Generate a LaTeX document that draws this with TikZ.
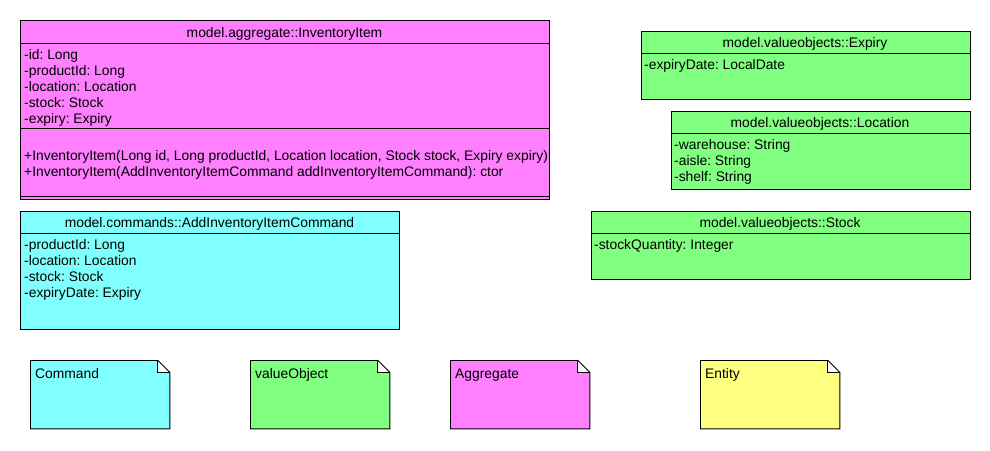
\documentclass[tikz,border=0pt]{standalone}
\usepackage{fontspec}
\setmainfont{Liberation Sans}
\usetikzlibrary{calc}
\definecolor{aggcol}{HTML}{FF80FF}
\definecolor{cmdcol}{HTML}{80FFFF}
\definecolor{vocol}{HTML}{80FF80}
\definecolor{entcol}{HTML}{FFFF80}
\frenchspacing
\tikzset{
  classbox/.style={draw=black, line width=0.9pt, rectangle, inner sep=0pt, anchor=north west},
  sepline/.style={draw=black, line width=0.9pt},
  txt/.style={inner sep=0pt, anchor=base west, font=\fontsize{13.85}{16}\selectfont},
  title/.style={inner sep=0pt, anchor=base, font=\fontsize{13.85}{16}\selectfont},
  noteframe/.style={rectangle, inner sep=0pt, anchor=north west, minimum width=139pt, minimum height=68pt},
  noteline/.style={draw=black, line width=0.9pt, line join=miter},
}
\newcommand{\notedraw}[2]{%
  \fill[#2] (#1.north west) -- ($(#1.north east)+(-12,0)$) -- ($(#1.north east)+(-12,12)$) -- ($(#1.north east)+(0,12)$) -- (#1.south east) -- (#1.south west) -- cycle;
  \path[noteline] (#1.north west) -- ($(#1.north east)+(-12,0)$) -- ($(#1.north east)+(0,12)$) -- (#1.south east) -- (#1.south west) -- cycle;
  \path[noteline] ($(#1.north east)+(-12,0)$) -- ($(#1.north east)+(-12,12)$) -- ($(#1.north east)+(0,12)$);
}
\begin{document}
\begin{tikzpicture}[x=1pt, y=-1pt]
\useasboundingbox[fill=white] (0,0) rectangle (990,450);

% ---------- InventoryItem ----------
\node[classbox, fill=aggcol, minimum width=529pt, minimum height=179pt] (inv) at (20,20) {};
\draw[sepline] (20,43) -- (549,43);
\draw[sepline] (20,128) -- (549,128);
\draw[sepline] (20,196.5) -- (549,196.5);
\node[title] (invt) at (284.5,37) {model.aggregate::InventoryItem};
\node[txt] (inva1) at (24,59) {-id: Long};
\node[txt] (inva2) at (24,75) {-productId: Long};
\node[txt] (inva3) at (24,91) {-location: Location};
\node[txt] (inva4) at (24,107) {-stock: Stock};
\node[txt] (inva5) at (24,123) {-expiry: Expiry};
\begin{scope}
\clip (20.5,129) rectangle (548.5,195);
\node[txt] (invm1) at (24,160) {+InventoryItem(Long id, Long productId, Location location, Stock stock, Expiry expiry): ctor};
\end{scope}
\node[txt] (invm2) at (24,176) {+InventoryItem(AddInventoryItemCommand addInventoryItemCommand): ctor};

% ---------- AddInventoryItemCommand ----------
\node[classbox, fill=cmdcol, minimum width=379pt, minimum height=118pt] (cmd) at (20,210.5) {};
\draw[sepline] (20,233) -- (399,233);
\node[title] (cmdt) at (209.5,227) {model.commands::AddInventoryItemCommand};
\node[txt] (cmda1) at (24,249) {-productId: Long};
\node[txt] (cmda2) at (24,265) {-location: Location};
\node[txt] (cmda3) at (24,281) {-stock: Stock};
\node[txt] (cmda4) at (24,297) {-expiryDate: Expiry};

% ---------- Expiry ----------
\node[classbox, fill=vocol, minimum width=329pt, minimum height=68.5pt] (exp) at (640.5,30.5) {};
\draw[sepline] (640.5,53) -- (969.5,53);
\node[title] (expt) at (805,47) {model.valueobjects::Expiry};
\node[txt] (expa1) at (644,69) {-expiryDate: LocalDate};

% ---------- Location ----------
\node[classbox, fill=vocol, minimum width=299pt, minimum height=78.5pt] (loc) at (670.5,110.5) {};
\draw[sepline] (670.5,133) -- (969.5,133);
\node[title] (loct) at (820,127) {model.valueobjects::Location};
\node[txt] (loca1) at (674,149) {-warehouse: String};
\node[txt] (loca2) at (674,165) {-aisle: String};
\node[txt] (loca3) at (674,181) {-shelf: String};

% ---------- Stock ----------
\node[classbox, fill=vocol, minimum width=379pt, minimum height=68.5pt] (stk) at (590.5,210.5) {};
\draw[sepline] (590.5,233) -- (969.5,233);
\node[title] (stkt) at (780,227) {model.valueobjects::Stock};
\node[txt] (stka1) at (594,249) {-stockQuantity: Integer};

% ---------- Legend notes ----------
\node[noteframe] (ncmd) at (30.5,360.5) {};
\notedraw{ncmd}{cmdcol}
\node[txt] (ncmdt) at (35,378) {Command};

\node[noteframe] (nvo) at (250.5,360.5) {};
\notedraw{nvo}{vocol}
\node[txt] (nvot) at (255,378) {valueObject};

\node[noteframe] (nagg) at (450.5,360.5) {};
\notedraw{nagg}{aggcol}
\node[txt] (naggt) at (455,378) {Aggregate};

\node[noteframe] (nent) at (700.5,360.5) {};
\notedraw{nent}{entcol}
\node[txt] (nentt) at (705,378) {Entity};
\end{tikzpicture}
\end{document}
